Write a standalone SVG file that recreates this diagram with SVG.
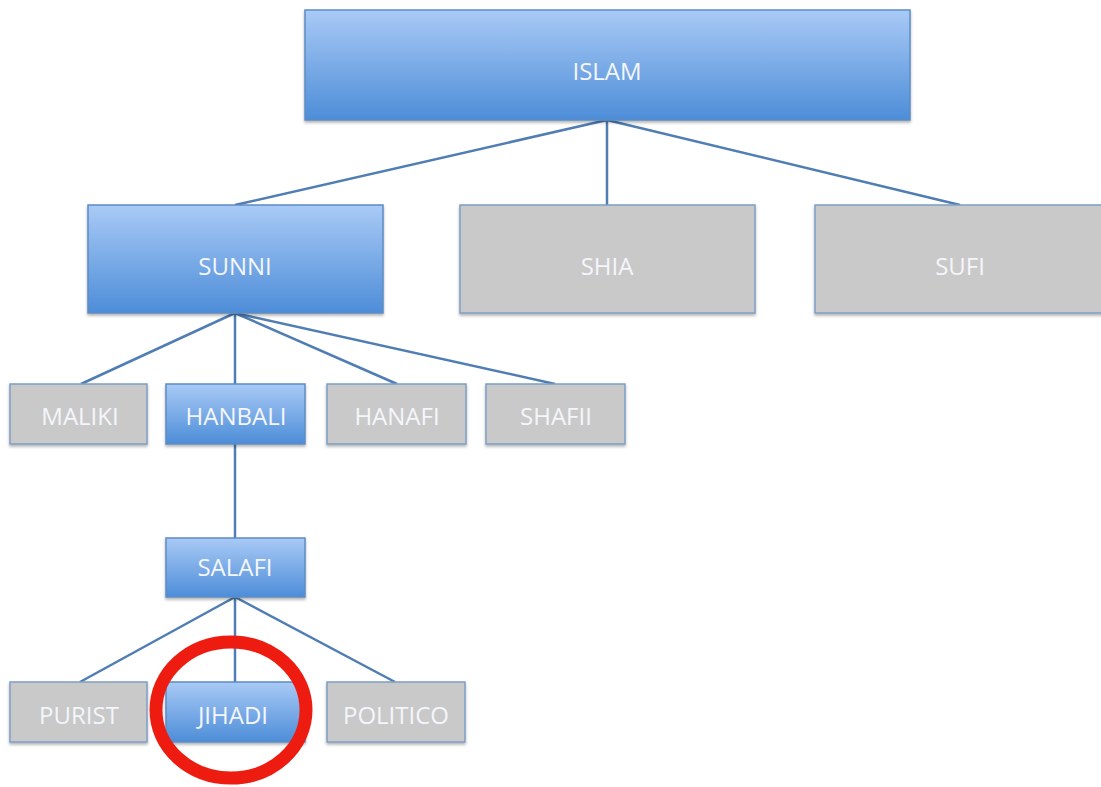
<svg xmlns="http://www.w3.org/2000/svg" width="1101" height="787" viewBox="0 0 1101 787">
<defs>
<linearGradient id="blue" x1="0" y1="0" x2="0" y2="1">
<stop offset="0" stop-color="#a9caf6"/>
<stop offset="1" stop-color="#4d8dd8"/>
</linearGradient>
<filter id="sh" x="-5%" y="-5%" width="110%" height="120%">
<feDropShadow dx="0" dy="2" stdDeviation="1.5" flood-color="#000" flood-opacity="0.3"/>
</filter>
<style>
.b{fill:url(#blue);stroke:#5d8cc4;stroke-width:1.5;filter:url(#sh)}
.g{fill:#c9c9c9;stroke:#7e9ec4;stroke-width:1.5;filter:url(#sh)}
text{font-family:"Open Sans","Liberation Sans",sans-serif;fill:#f4f6fa;text-anchor:middle;dominant-baseline:central;font-size:24px}
.c line{stroke:#4f7db4;stroke-width:2.5}
</style>
</defs>
<rect width="1101" height="787" fill="#ffffff"/>
<g class="c" id="connectors">
<line x1="607" y1="120" x2="235" y2="205"/>
<line x1="607" y1="120" x2="607" y2="205"/>
<line x1="607" y1="120" x2="960" y2="205"/>
<line x1="235" y1="313" x2="81" y2="384"/>
<line x1="235" y1="313" x2="235" y2="384"/>
<line x1="235" y1="313" x2="397" y2="384"/>
<line x1="235" y1="313" x2="555" y2="384"/>
<line x1="235" y1="444" x2="235" y2="538"/>
<line x1="235" y1="597" x2="80" y2="682"/>
<line x1="235" y1="597" x2="235" y2="682"/>
<line x1="235" y1="597" x2="395" y2="682"/>
</g>
<g id="islam"><rect class="b" x="305" y="10" width="605" height="110"/><text x="607" y="70">ISLAM</text></g>
<g id="sunni"><rect class="b" x="88" y="205" width="295" height="108"/><text x="235" y="265">SUNNI</text></g>
<g id="shia"><rect class="g" x="460" y="205" width="295" height="108"/><text x="607" y="265">SHIA</text></g>
<g id="sufi"><rect class="g" x="815" y="205" width="295" height="108"/><text x="960" y="265">SUFI</text></g>
<g id="maliki"><rect class="g" x="10" y="384" width="137" height="60"/><text x="80" y="415">MALIKI</text></g>
<g id="hanbali"><rect class="b" x="166" y="384" width="139" height="60"/><text x="236" y="415">HANBALI</text></g>
<g id="hanafi"><rect class="g" x="327" y="384" width="139" height="60"/><text x="397" y="415">HANAFI</text></g>
<g id="shafii"><rect class="g" x="486" y="384" width="139" height="60"/><text x="556" y="415">SHAFII</text></g>
<g id="salafi"><rect class="b" x="166" y="538" width="139" height="59"/><text x="235" y="566">SALAFI</text></g>
<g id="purist"><rect class="g" x="10" y="682" width="137" height="60"/><text x="79" y="714">PURIST</text></g>
<g id="jihadi"><rect class="b" x="166" y="682" width="139" height="60"/><text x="233" y="714">JIHADI</text></g>
<g id="politico"><rect class="g" x="327" y="682" width="138" height="60"/><text x="396" y="714">POLITICO</text></g>
<ellipse cx="231" cy="710" rx="75" ry="68" fill="none" stroke="#ee1c10" stroke-width="13"/>
</svg>
